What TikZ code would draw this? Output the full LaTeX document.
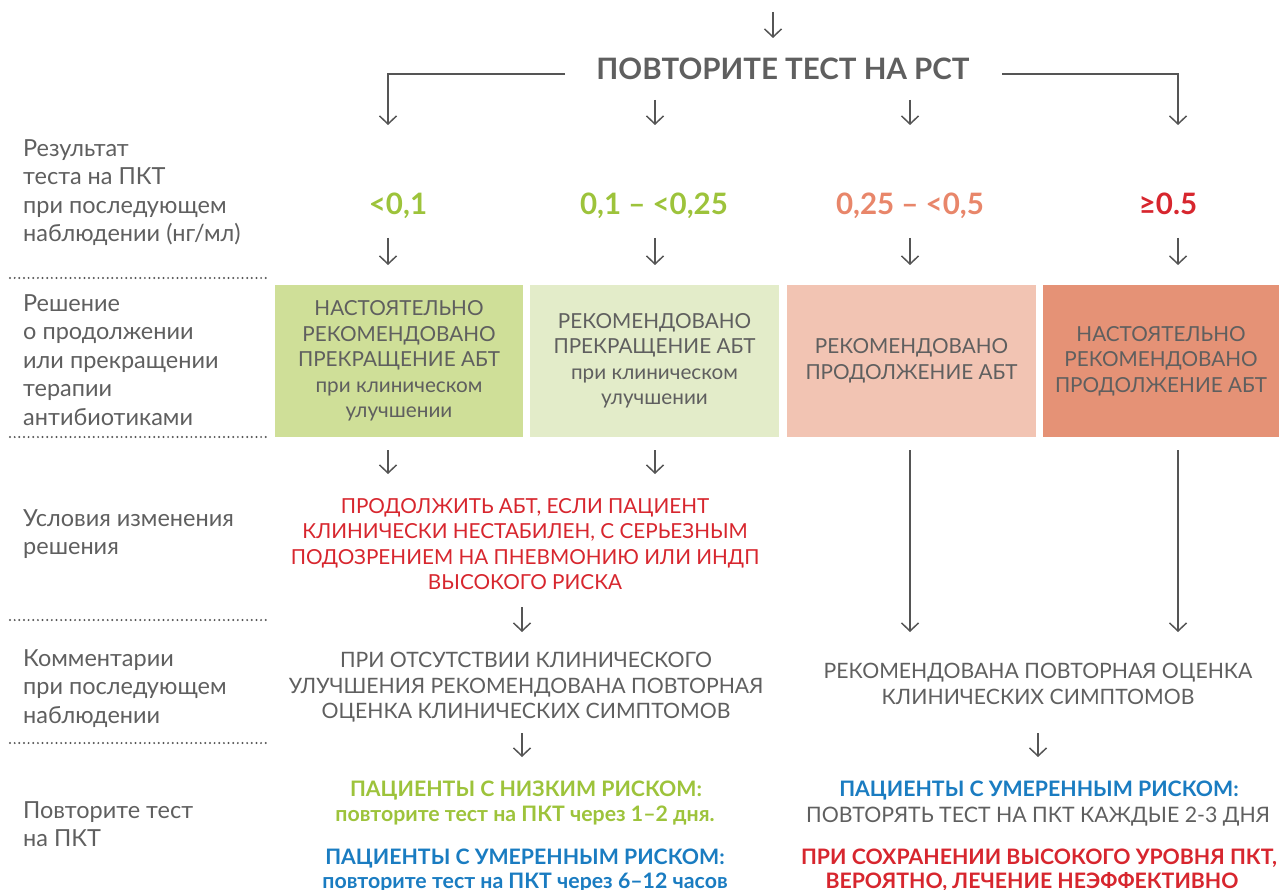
\documentclass[tikz,border=0pt]{standalone}
\usepackage{fontspec}
\setmainfont{Lato}
\usetikzlibrary{arrows.meta}
\definecolor{txt}{HTML}{5F5F5F}
\definecolor{arrc}{HTML}{555555}
\definecolor{grn}{HTML}{9DC33B}
\definecolor{sal}{HTML}{E8866A}
\definecolor{rd}{HTML}{D7262E}
\definecolor{blu}{HTML}{1A7CC1}
\definecolor{boxA}{HTML}{CFDF98}
\definecolor{boxB}{HTML}{E3ECC9}
\definecolor{boxC}{HTML}{F2C4B3}
\definecolor{boxD}{HTML}{E59276}
\tikzset{
 lab/.style={anchor=north west, inner sep=0, align=left, font=\fontsize{23.5}{28.5}\selectfont, text=txt},
 arr/.style={draw=arrc, line width=1.5pt, -{Straight Barb[length=8pt,width=17pt]}},
 dots/.style={draw=arrc, line width=2.2pt, line cap=round, dash pattern=on 0pt off 4.65pt},
 box/.style={inner sep=0, minimum height=152, align=center, text=txt, font=\fontsize{20.7}{25.5}\selectfont},
 val/.style={anchor=base, inner sep=0, font=\bfseries\fontsize{29.5}{32}\selectfont},
 body/.style={anchor=north, inner sep=0, align=center, font=\fontsize{21.2}{25.5}\selectfont},
 hd/.style={anchor=base, inner sep=0, font=\bfseries\fontsize{21.3}{24}\selectfont},
 sub/.style={anchor=base, inner sep=0, font=\bfseries\fontsize{21.3}{24}\selectfont},
}
\begin{document}
\begin{tikzpicture}[x=1pt,y=-1pt]
\useasboundingbox (0,0) rectangle (1279,890);
% left labels
\node[lab] (l1) at (23,139) {Результат\\теста на ПКТ\\при последующем\\наблюдении (нг/мл)};
\node[lab] (l2) at (23,294) {Решение\\о продолжении\\или прекращении\\терапии\\антибиотиками};
\node[lab] (l3) at (23,509) {Условия изменения\\решения};
\node[lab] (l4) at (23,649) {Комментарии\\при последующем\\наблюдении};
\node[lab] (l5) at (23,801) {Повторите тест\\на ПКТ};
% separators
\draw[dots] (10,278) -- (270,278);
\draw[dots] (10,437) -- (270,437);
\draw[dots] (10,620) -- (270,620);
\draw[dots] (10,743) -- (270,743);
% title
\node[anchor=base, inner sep=0, font=\bfseries\fontsize{29.5}{32}\selectfont, text=txt] (title) at (783,80) {ПОВТОРИТЕ ТЕСТ НА РСТ};
% values
\node[val, text=grn] (v1) at (398,215) {<0,1};
\node[val, text=grn] (v2) at (654,215) {0,1 – <0,25};
\node[val, text=sal] (v3) at (910,215) {0,25 – <0,5};
\node[val, text=rd] (v4) at (1168,215) {≥0.5};
% boxes
\node[box, fill=boxA, minimum width=248] (b1) at (399,361) {НАСТОЯТЕЛЬНО\\РЕКОМЕНДОВАНО\\ПРЕКРАЩЕНИЕ АБТ\\при клиническом\\улучшении};
\node[box, fill=boxB, minimum width=249] (b2) at (654.5,361) {РЕКОМЕНДОВАНО\\ПРЕКРАЩЕНИЕ АБТ\\при клиническом\\улучшении};
\node[box, fill=boxC, minimum width=249] (b3) at (911.5,361) {РЕКОМЕНДОВАНО\\ПРОДОЛЖЕНИЕ АБТ};
\node[box, fill=boxD, minimum width=236] (b4) at (1161,361) {НАСТОЯТЕЛЬНО\\РЕКОМЕНДОВАНО\\ПРОДОЛЖЕНИЕ АБТ};
% condition
\node[body, text=rd, font=\fontsize{20.7}{25.5}\selectfont] (cond) at (525,498) {ПРОДОЛЖИТЬ АБТ, ЕСЛИ ПАЦИЕНТ\\КЛИНИЧЕСКИ НЕСТАБИЛЕН, С СЕРЬЕЗНЫМ\\ПОДОЗРЕНИЕМ НА ПНЕВМОНИЮ ИЛИ ИНДП\\ВЫСОКОГО РИСКА};
% comments
\node[body, text=txt] (comL) at (526,652) {ПРИ ОТСУТСТВИИ КЛИНИЧЕСКОГО\\УЛУЧШЕНИЯ РЕКОМЕНДОВАНА ПОВТОРНАЯ\\ОЦЕНКА КЛИНИЧЕСКИХ СИМПТОМОВ};
\node[body, text=txt] (comR) at (1038,663) {РЕКОМЕНДОВАНА ПОВТОРНАЯ ОЦЕНКА\\КЛИНИЧЕСКИХ СИМПТОМОВ};
% bottom
\node[hd, text=grn] (lowH) at (526,796) {ПАЦИЕНТЫ С НИЗКИМ РИСКОМ:};
\node[sub, text=grn] (lowT) at (525,821) {повторите тест на ПКТ через 1–2 дня.};
\node[hd, text=blu] (modH) at (525,864) {ПАЦИЕНТЫ С УМЕРЕННЫМ РИСКОМ:};
\node[sub, text=blu] (modT) at (525,888) {повторите тест на ПКТ через 6–12 часов};
\node[hd, text=blu] (rmodH) at (1039,796) {ПАЦИЕНТЫ С УМЕРЕННЫМ РИСКОМ:};
\node[anchor=base, inner sep=0, font=\fontsize{21.3}{24}\selectfont, text=txt] (rmodT) at (1038,822) {ПОВТОРЯТЬ ТЕСТ НА ПКТ КАЖДЫЕ 2-3 ДНЯ};
\node[hd, text=rd] (rhi1) at (1039,864) {ПРИ СОХРАНЕНИИ ВЫСОКОГО УРОВНЯ ПКТ,};
\node[hd, text=rd] (rhi2) at (1032,888) {ВЕРОЯТНО, ЛЕЧЕНИЕ НЕЭФФЕКТИВНО};
% arrow coordinates
\coordinate (inS) at (773,12); \coordinate (inE) at (773,38);
\coordinate (tL) at (565,74); \coordinate (tR) at (1002,74);
\coordinate (a1) at (388,125); \coordinate (a4) at (1178,125);
\coordinate (m2s) at (655,100); \coordinate (m2e) at (655,125);
\coordinate (m3s) at (910,100); \coordinate (m3e) at (910,125);
\draw[arr] (inS) -- (inE);
\draw[arr] (tL) -| (a1);
\draw[arr] (tR) -| (a4);
\draw[arr] (m2s) -- (m2e);
\draw[arr] (m3s) -- (m3e);
\foreach \x/\n in {388/1,655/2,910/3,1178/4}{
  \coordinate (r\n s) at (\x,238); \coordinate (r\n e) at (\x,265);
  \draw[arr] (r\n s) -- (r\n e);
}
\coordinate (s1s) at (388,450); \coordinate (s1e) at (388,474);
\coordinate (s2s) at (655,450); \coordinate (s2e) at (655,474);
\coordinate (s3s) at (910,450); \coordinate (s3e) at (910,632);
\coordinate (s4s) at (1178,450); \coordinate (s4e) at (1178,632);
\draw[arr] (s1s) -- (s1e);
\draw[arr] (s2s) -- (s2e);
\draw[arr] (s3s) -- (s3e);
\draw[arr] (s4s) -- (s4e);
\coordinate (c1s) at (522,607); \coordinate (c1e) at (522,632);
\draw[arr] (c1s) -- (c1e);
\coordinate (k1s) at (522,733); \coordinate (k1e) at (522,757);
\coordinate (k2s) at (1038,733); \coordinate (k2e) at (1038,757);
\draw[arr] (k1s) -- (k1e);
\draw[arr] (k2s) -- (k2e);
\end{tikzpicture}
\end{document}
